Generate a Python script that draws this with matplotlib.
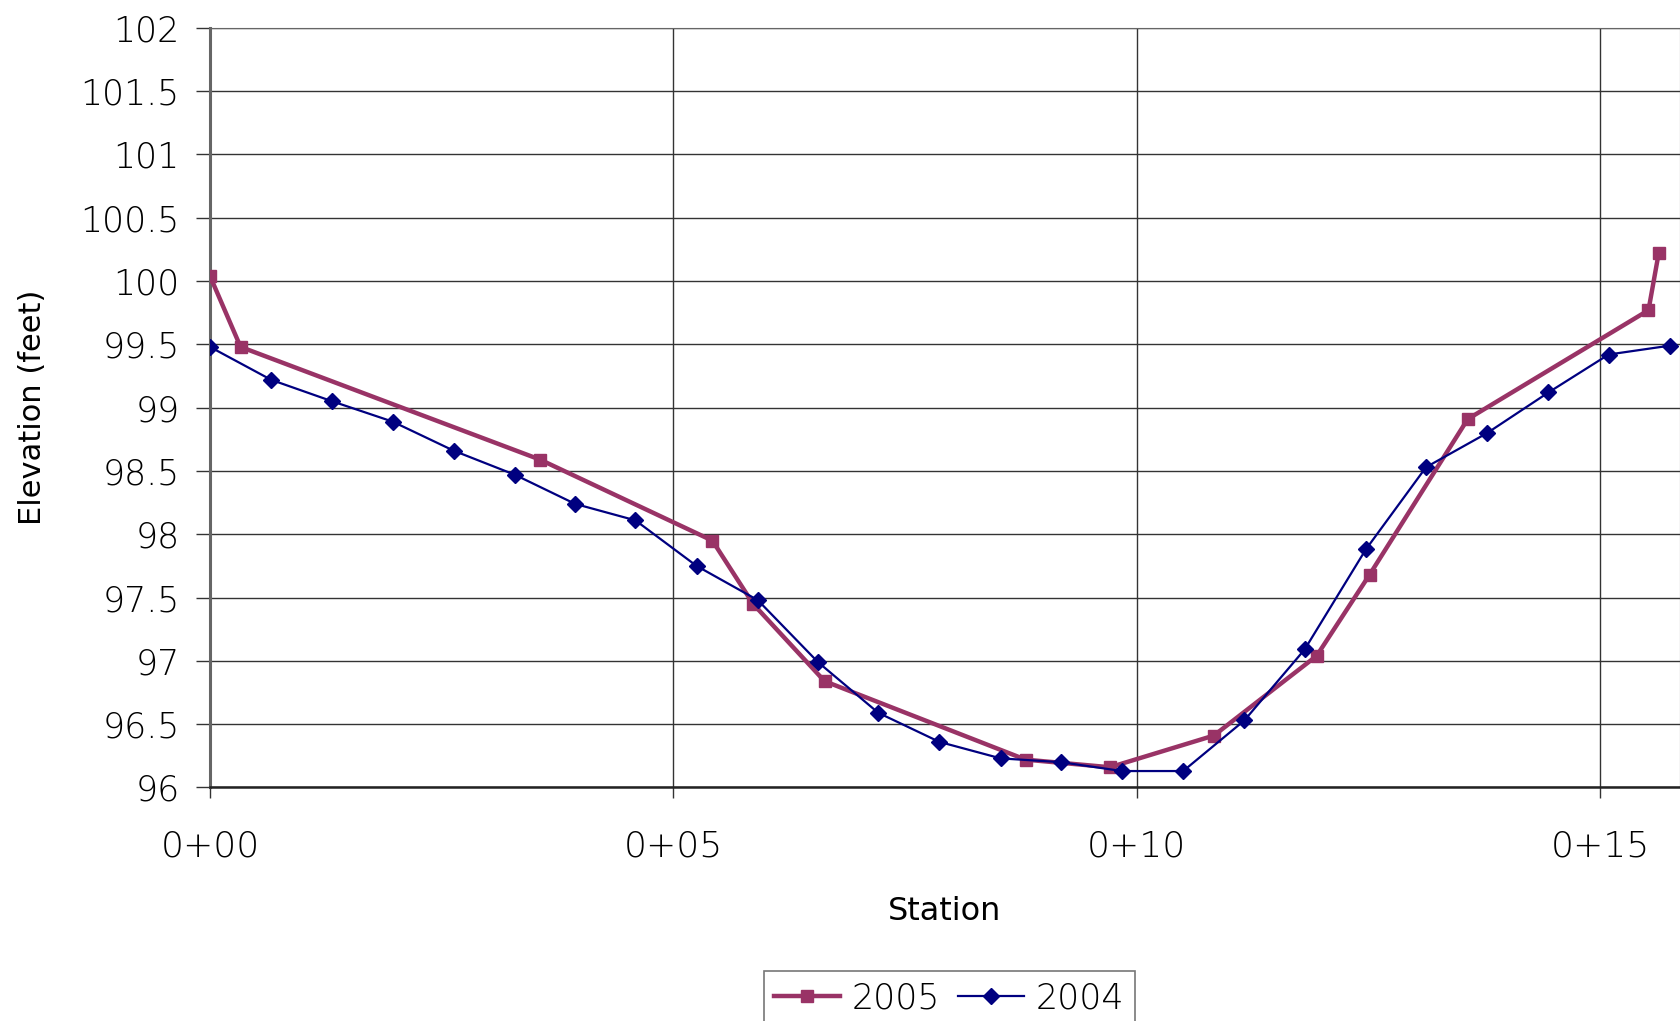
import matplotlib.pyplot as plt
from matplotlib.ticker import FixedLocator, FuncFormatter

plt.rcParams['font.family'] = ['DejaVu Sans']
plt.rcParams['font.weight'] = 'light'

# 2005 survey (maroon squares)
station_2005 = [0.0, 0.33, 3.56, 5.42, 5.86, 6.63, 8.80, 9.71, 10.83, 11.94, 12.51, 13.57, 15.52, 15.63]
elev_2005 = [100.04, 99.48, 98.59, 97.95, 97.45, 96.84, 96.22, 96.16, 96.41, 97.04, 97.68, 98.91, 99.77, 100.22]

# 2004 survey (navy diamonds)
station_2004 = [0.0, 0.66, 1.32, 1.97, 2.63, 3.29, 3.94, 4.59, 5.25, 5.91, 6.56, 7.21, 7.87,
                8.53, 9.18, 9.84, 10.50, 11.16, 11.81, 12.47, 13.12, 13.78, 14.44, 15.09, 15.75]
elev_2004 = [99.48, 99.22, 99.05, 98.89, 98.66, 98.47, 98.24, 98.11, 97.75, 97.48, 96.99, 96.59, 96.36,
             96.23, 96.20, 96.13, 96.13, 96.53, 97.09, 97.88, 98.53, 98.80, 99.12, 99.42, 99.49]

station_ticks = [0, 5, 10, 15]
elev_ticks = [96, 96.5, 97, 97.5, 98, 98.5, 99, 99.5, 100, 100.5, 101, 101.5, 102]

fig = plt.figure(figsize=(16.8, 10.21), dpi=100)
ax = fig.add_axes([0.125, 0.2287, 0.875, 0.7440])

ax.plot(station_2005, elev_2005, color='#993366', lw=3.2, marker='s', ms=8,
        label='2005', zorder=3, solid_joinstyle='miter')
ax.plot(station_2004, elev_2004, color='#000080', lw=1.6, marker='D', ms=8,
        label='2004', zorder=4)

ax.set_xlim(0, 15.86)
ax.set_ylim(96, 102)
ax.xaxis.set_major_locator(FixedLocator(station_ticks))
ax.xaxis.set_major_formatter(FuncFormatter(lambda v, p: f'0+{int(v):02d}'))
ax.yaxis.set_major_locator(FixedLocator(elev_ticks))
ax.yaxis.set_major_formatter(FuncFormatter(lambda v, p: f'{v:g}'))

ax.grid(True, color='#333333', lw=1.0)
ax.set_axisbelow(True)
for s in ['top', 'right']:
    ax.spines[s].set_color('#666666')
ax.spines['left'].set_color('#666666')
ax.spines['left'].set_linewidth(2.2)
ax.spines['bottom'].set_color('#222222')
ax.spines['bottom'].set_linewidth(1.8)

ax.tick_params(axis='y', length=10, width=1, color='#333333', labelsize=25, pad=12)
ax.tick_params(axis='x', length=8, width=1, color='#333333', labelsize=26, pad=22)

ax.set_xlabel('Station', fontsize=23, labelpad=24)
ax.set_ylabel('Elevation (feet)', fontsize=22, labelpad=24)

leg = fig.legend(loc='upper center', bbox_to_anchor=(0.565, 0.049), ncol=2, fontsize=25,
                 frameon=True, fancybox=False, edgecolor='#555555', handlelength=1.9,
                 columnspacing=0.5, handletextpad=0.35, borderpad=0.3, borderaxespad=0)
leg.get_frame().set_linewidth(1.2)

fig.savefig('out.png', dpi=100)
